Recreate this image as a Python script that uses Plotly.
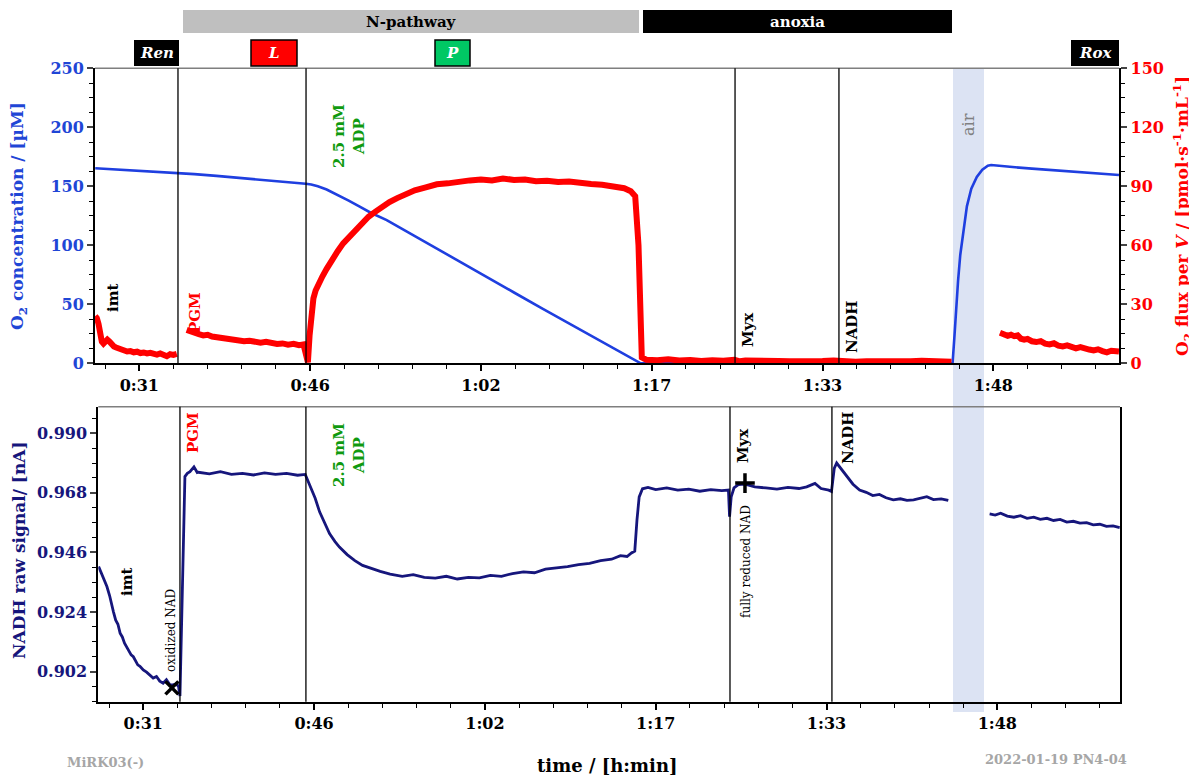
import plotly.graph_objects as go

W, H = 1197, 775
FONT = "DejaVu Serif"
OFF = 8  # page body margin of the browser

# ------------------------------------------------------------------ data
tick_vals = [31, 46.5, 62, 77.5, 93, 108.5]
tick_text = ["0:31", "0:46", "1:02", "1:17", "1:33", "1:48"]

# O2 concentration (µM), top panel, left axis
o2_t = [27.0, 28, 29, 30, 31, 32, 33, 34, 34.5, 36, 38, 40, 42, 44, 46.1, 46.6, 47.2, 48, 49, 50,
        51, 52, 53.45, 56, 58, 60, 62.5, 65, 67.5, 70, 72.5, 75, 76.3, 76.5, 80, 85, 90, 95, 100,
        104.8, 104.95, 105.1, 105.3, 105.5, 105.8, 106.1, 106.5, 107, 107.5, 108, 108.3, 109, 110,
        112, 114, 116, 118, 119.9]
o2_conc = [165.3, 164.8, 164.3, 163.8, 163.3, 162.8, 162.3, 161.8, 161.5, 160.3, 158.8, 157.3, 155.8,
           154.2, 152.2, 151.5, 150.0, 147.3, 142.8, 137.8, 132.7, 127.6, 121.4, 108.0, 97.4, 86.6,
           73.3, 60.0, 46.8, 33.6, 20.4, 7.2, 0.5, 0.0, 0.0, 0.0, 0.0, 0.0, 0.0, 0.0, 20, 45, 70, 92,
           115, 133, 148, 158, 164, 167.5, 168, 167.3, 166.5, 165.0, 163.6, 162.2, 160.8, 159.6]

# O2 flux per V (pmol/(s*mL)), top panel, right axis -- segments separated by gaps
flux_t_1 = [27.0, 27.15, 27.3, 27.45, 27.6, 27.75, 27.9, 28.1, 28.3, 28.5, 28.7, 28.9, 29.1, 29.3,
            29.6, 29.9, 30.2, 30.5, 30.8, 31.1, 31.4, 31.7, 32.0, 32.3, 32.6, 32.9, 33.2, 33.5,
            33.8, 34.1, 34.4]
flux_v_1 = [24, 23, 20, 14, 11, 10, 11.5, 12, 11, 9, 8.5, 8, 7.5, 7.8, 6.5, 6, 6.2, 5.6, 5.9, 5.2,
            5.5, 5.0, 5.3, 4.8, 4.4, 5.0, 4.2, 3.6, 4.6, 4.3, 4.8]
flux_t_2 = [35.3, 35.5, 35.7, 36.0, 36.4, 36.8, 37.2, 37.6, 38.0, 38.5, 39.0, 39.5, 40.0, 40.5, 41.0,
            41.5, 42.0, 42.5, 43.0, 43.5, 44.0, 44.5, 45.0, 45.5, 45.9, 46.1, 46.3, 46.45, 46.6,
            46.8, 47.0, 47.3, 47.6, 48.0, 48.5, 49.0, 49.5, 50.0, 50.6, 51.2, 51.8, 52.4, 53.0,
            53.7, 54.4, 55.2, 56.0, 57.0, 58.0, 59.0, 60.0, 61.0, 62.0, 63.0, 64.0, 65.0, 66.0,
            67.0, 68.0, 69.0, 70.0, 71.0, 72.0, 73.0, 74.0, 75.0, 75.6, 76.0, 76.3, 76.45, 76.6,
            77, 78, 79, 80, 81, 82, 83, 84, 85, 85.5, 86, 87, 88, 89, 90, 91, 92, 93, 94, 95, 96,
            97, 98, 99, 100, 101, 102, 103, 104, 104.7]
flux_v_2 = [17, 16.5, 15.8, 15.5, 14.8, 14.2, 14.5, 13.6, 13.2, 12.8, 12.5, 12.0, 11.8, 11.2, 11.5,
            10.8, 10.5, 10.9, 10.2, 9.8, 10.1, 9.5, 9.9, 9.2, 9.6, 6, 0.5, 14, 26,
            33, 37, 41, 44, 48, 53, 57, 61, 64, 68, 71, 74.5, 77, 79.5,
            82, 84, 86, 88, 89.5, 91, 91.5, 92.5, 93, 93.5, 93, 94, 93.2, 93.5,
            92.6, 92.8, 92.2, 92.4, 91.6, 91.2, 90.8, 90.0, 89.0, 87.5, 85, 60, 20, 3,
            1.8, 1.5, 2.0, 1.4, 1.7, 1.2, 1.6, 1.3, 1.8, 1.0, 1.4, 1.1, 1.5, 1.2, 1.0, 1.3, 0.9, 1.2,
            1.4, 1.0, 0.8, 1.1, 0.9, 1.2, 0.8, 1.0, 1.3, 0.9, 1.1, 0.8]
flux_t_3 = [109.1, 109.4, 109.8, 110.1, 110.4, 110.7, 111.0, 111.3, 111.6, 112.0, 112.4, 112.8, 113.2,
            113.6, 114.0, 114.4, 114.8, 115.2, 115.6, 116.0, 116.4, 116.8, 117.2, 117.6, 118.0,
            118.4, 118.8, 119.2, 119.6, 119.9]
flux_v_3 = [15.5, 15.0, 14.0, 14.5, 13.8, 14.2, 12.5, 12.0, 12.4, 11.2, 10.8, 11.3, 10.0, 9.6, 10.2,
            9.0, 8.6, 9.1, 8.0, 7.6, 8.2, 7.2, 7.0, 6.5, 7.1, 6.2, 5.6, 6.4, 5.8, 6.0]

# NADH raw signal (nA), bottom panel
nadh_t_1 = [26.95, 27.2, 27.45, 27.7, 27.95, 28.15, 28.3, 28.5, 28.7, 28.9, 29.1, 29.3, 29.5, 29.7,
            29.9, 30.1, 30.3, 30.5, 30.7, 31.0, 31.3, 31.6, 31.9, 32.2, 32.5, 32.8, 33.1, 33.4,
            33.7, 34.0, 34.2, 34.33, 34.42, 34.58, 34.7, 34.78, 35.0, 35.24, 35.6, 35.9, 36, 37,
            38, 39, 40, 41, 42, 43, 44, 45, 45.7, 45.76, 46.1, 46.6, 47.0, 47.5, 47.9, 48.4, 48.8,
            49.5, 50.2, 50.9, 51.6, 52.5, 53.4, 54.5, 55.5, 56.5, 57.5, 58.5, 59.5, 60.5, 61.5,
            62.5, 63.5, 64.5, 65.5, 66.5, 67.5, 68.5, 69.5, 70.5, 71.5, 72.5, 73.5, 74.3, 74.9,
            75.3, 75.6, 75.8, 76.0, 76.3, 76.8, 77.5, 78.5, 79.5, 80.5, 81.5, 82.5, 83.5, 84.1,
            84.2, 84.35, 84.6, 85.0, 85.6, 86.5, 87.5, 88.5, 89.5, 90.5, 91.2, 91.95, 92.5, 93.2,
            93.45, 93.7, 93.92, 94.3, 94.83, 95.4, 96.0, 96.6, 97.2, 97.8, 98.4, 99.06, 99.7,
            100.3, 100.9, 101.5, 102.1, 102.7, 103.4, 104.05]
nadh_v_1 = [0.9408, 0.9385, 0.9360, 0.9334, 0.9300, 0.9262, 0.9240, 0.9210, 0.9195, 0.9162, 0.9148,
            0.9125, 0.9112, 0.9100, 0.9082, 0.9075, 0.9062, 0.9045, 0.9040, 0.9026, 0.9018, 0.9005,
            0.8996, 0.9002, 0.8985, 0.8977, 0.8990, 0.8972, 0.8971, 0.8975, 0.8965, 0.8930, 0.9088,
            0.9285, 0.9550, 0.9740, 0.9752, 0.9758, 0.9776, 0.9755, 0.9756, 0.9750, 0.9758, 0.9748,
            0.9752, 0.9746, 0.9754, 0.9748, 0.9752, 0.9745, 0.9748, 0.9742, 0.9710, 0.9660, 0.9610,
            0.9565, 0.9530, 0.9500, 0.9480, 0.9452, 0.9430, 0.9412, 0.9402, 0.9390, 0.9380, 0.9372,
            0.9378, 0.9368, 0.9365, 0.9372, 0.9362, 0.9368, 0.9366, 0.9375, 0.9372, 0.9382, 0.9388,
            0.9385, 0.9398, 0.9402, 0.9408, 0.9415, 0.9420, 0.9430, 0.9435, 0.9448, 0.9445, 0.9458,
            0.9465, 0.9580, 0.9665, 0.9695, 0.9700, 0.9692, 0.9698, 0.9690, 0.9694, 0.9686, 0.9692,
            0.9688, 0.9690, 0.9592, 0.9665, 0.9698, 0.9710, 0.9712, 0.9702, 0.9698, 0.9694, 0.9700,
            0.9696, 0.9702, 0.9715, 0.9696, 0.9690, 0.9685, 0.9770, 0.9790, 0.9770, 0.9740, 0.9712,
            0.9690, 0.9682, 0.9670, 0.9674, 0.9662, 0.9654, 0.9658, 0.9652, 0.9654, 0.9660, 0.9666,
            0.9655, 0.9658, 0.9652]
nadh_t_2 = [107.8, 108.3, 108.8, 109.4, 110.0, 110.6, 111.2, 111.8, 112.4, 113.0, 113.6, 114.2, 114.8,
            115.4, 116.0, 116.6, 117.2, 117.8, 118.4, 119.0, 119.6]
nadh_v_2 = [0.9602, 0.9598, 0.9605, 0.9594, 0.9590, 0.9596, 0.9586, 0.9590, 0.9582, 0.9586, 0.9578,
            0.9582, 0.9572, 0.9575, 0.9568, 0.9570, 0.9562, 0.9564, 0.9556, 0.9558, 0.9552]

# titration events (min)
events_top = [34.51, 46.13, 85.06, 94.49]
events_bottom = [34.33, 45.76, 84.24, 93.49]

# special points
oxidized_pt = (33.6, 0.8960)
reduced_pt = (85.6, 0.9716)


def join(*segs):
    out = []
    for i, s in enumerate(segs):
        if i:
            out.append(None)
        out.extend(s)
    return out


def px(x):
    return (x - OFF) / W


def py(y):
    return 1 - (y - OFF) / H


BLUE = "#1f3fe0"
BLUE_T = "#1f46d6"
RED = "#ff0000"
NAVY = "#16167c"
GREEN = "#0f9a0f"

fig = go.Figure()

fig.add_trace(go.Scatter(x=o2_t, y=o2_conc, mode="lines", line=dict(color=BLUE, width=2.6),
                         xaxis="x", yaxis="y", showlegend=False))
fig.add_trace(go.Scatter(x=join(flux_t_1, flux_t_2, flux_t_3), y=join(flux_v_1, flux_v_2, flux_v_3),
                         mode="lines", line=dict(color=RED, width=6), connectgaps=False,
                         xaxis="x", yaxis="y2", showlegend=False))
fig.add_trace(go.Scatter(x=join(nadh_t_1, nadh_t_2), y=join(nadh_v_1, nadh_v_2), mode="lines",
                         line=dict(color=NAVY, width=2.8), connectgaps=False,
                         xaxis="x2", yaxis="y3", showlegend=False))
fig.add_trace(go.Scatter(x=[oxidized_pt[0]], y=[oxidized_pt[1]], mode="markers",
                         marker=dict(symbol="x-thin", size=13, line=dict(color="black", width=3.5)),
                         xaxis="x2", yaxis="y3", showlegend=False))
fig.add_trace(go.Scatter(x=[reduced_pt[0]], y=[reduced_pt[1]], mode="markers",
                         marker=dict(symbol="cross-thin", size=14, line=dict(color="black", width=3.5)),
                         xaxis="x2", yaxis="y3", showlegend=False))

minor_vals = []
for i in range(len(tick_vals) + 1):
    base = tick_vals[0] + (i - 1) * 15.5
    for k in range(1, 5):
        minor_vals.append(base + k * 3.1)

xcommon = dict(tickmode="array", tickvals=tick_vals, ticktext=tick_text, showgrid=False,
               zeroline=False, showline=True, linecolor="black", linewidth=2, ticks="outside",
               ticklen=6, tickwidth=1.5, tickcolor="black",
               tickfont=dict(family=FONT, size=16, color="black", weight="bold"),
               minor=dict(tickmode="array", tickvals=minor_vals, ticks="outside", ticklen=4,
                          tickwidth=1.2, tickcolor="black"),
               automargin=False)

fig.update_layout(
    width=W, height=H,
    margin=dict(l=0, r=0, t=0, b=0),
    paper_bgcolor="white", plot_bgcolor="rgba(0,0,0,0)",
    font=dict(family=FONT),
    xaxis=dict(domain=[px(95), px(1119.3)], range=[26.98, 119.93], anchor="y", **xcommon),
    xaxis2=dict(domain=[px(98.3), px(1120)], range=[26.92, 119.63], anchor="y3", **xcommon),
    yaxis=dict(domain=[py(363.3), py(68.3)], range=[0, 250], anchor="x", tickmode="linear",
               tick0=0, dtick=50, showgrid=False, zeroline=False, showline=True,
               linecolor="black", linewidth=2, ticks="outside", ticklen=6, tickwidth=1.5,
               tickfont=dict(family=FONT, size=16, color=BLUE_T, weight="bold"),
               minor=dict(dtick=12.5, ticks="outside", ticklen=4, tickwidth=1.2, tickcolor="black"),
               automargin=False),
    yaxis2=dict(range=[0, 150], overlaying="y", side="right", anchor="x", tickmode="linear",
                tick0=0, dtick=30, showgrid=False, zeroline=False, showline=True,
                linecolor="black", linewidth=2, ticks="outside", ticklen=6, tickwidth=1.5,
                tickfont=dict(family=FONT, size=16, color=RED, weight="bold"),
                minor=dict(dtick=7.5, ticks="outside", ticklen=4, tickwidth=1.2, tickcolor="black"),
                automargin=False),
    yaxis3=dict(domain=[py(701.7), py(406.7)], range=[0.8909, 0.9998], anchor="x2",
                tickmode="linear", tick0=0.902, dtick=0.022, tickformat=".3f", showgrid=False,
                zeroline=False, showline=True, mirror=True, linecolor="black", linewidth=2,
                ticks="outside", ticklen=6, tickwidth=1.5,
                tickfont=dict(family=FONT, size=16, color=NAVY, weight="bold"),
                minor=dict(dtick=0.0055, tick0=0.902, ticks="outside", ticklen=4, tickwidth=1.2,
                           tickcolor="black"),
                automargin=False),
)

shapes = []
# air calibration band spanning both panels
shapes.append(dict(type="rect", xref="paper", yref="paper", x0=px(953), x1=px(984),
                   y0=py(712), y1=py(68.3), fillcolor="#dce3f3", line=dict(width=0), layer="below"))
# top borders of each panel
shapes.append(dict(type="line", xref="paper", yref="paper", x0=px(95), x1=px(1119.3),
                   y0=py(68.3), y1=py(68.3), line=dict(color="#7f7f7f", width=1.5)))
shapes.append(dict(type="line", xref="paper", yref="paper", x0=px(98.3), x1=px(1120),
                   y0=py(406.7), y1=py(406.7), line=dict(color="#7f7f7f", width=1.5)))
for t in events_top:
    shapes.append(dict(type="line", xref="x", yref="y domain", x0=t, x1=t, y0=0, y1=1,
                       line=dict(color="black", width=1.3)))
for t in events_bottom:
    shapes.append(dict(type="line", xref="x2", yref="y3 domain", x0=t, x1=t, y0=0, y1=1,
                       line=dict(color="black", width=1.3)))


def box(x0, x1, y0, y1, fill, border=None):
    return dict(type="rect", xref="paper", yref="paper", x0=px(x0), x1=px(x1), y0=py(y1), y1=py(y0),
                fillcolor=fill, line=dict(color=border or fill, width=1.5 if border else 0))


shapes += [
    box(183, 639, 10, 33, "#bfbfbf"),
    box(643, 952, 10, 33, "black"),
    box(134, 179, 40, 66, "black"),
    box(251, 297, 40, 66, "#ff0000", "black"),
    box(435, 470, 40, 66, "#00c864", "black"),
    box(1071, 1119, 40, 66, "black"),
]
fig.update_layout(shapes=shapes)

ann = []


def text(x, y, s, color="black", size=15, angle=0, bold=True, italic=False, xanchor="center"):
    ann.append(dict(x=px(x), y=py(y), xref="paper", yref="paper", text=s, showarrow=False,
                    textangle=angle, xanchor=xanchor, yanchor="middle",
                    font=dict(family=FONT, size=size, color=color,
                              weight="bold" if bold else "normal",
                              style="italic" if italic else "normal")))


# header labels
text(411, 22, "N-pathway", size=15)
text(797, 22, "anoxia", color="white", size=15)
text(156.5, 53, "Ren", color="white", size=15, italic=True)
text(274, 53, "L", color="white", size=15, italic=True)
text(452.5, 53, "P", color="white", size=15, italic=True)
text(1095, 53, "Rox", color="white", size=15, italic=True)

# axis titles
text(19, 216, "O<sub>2</sub> concentration / [µM]", color=BLUE_T, size=17, angle=-90)
text(1183, 216, "O<sub>2</sub> flux per <i>V</i> / [pmol·s<sup>-1</sup>·mL<sup>-1</sup>]",
     color=RED, size=17, angle=-90)
text(19, 550, "NADH raw signal/ [nA]", color=NAVY, size=17, angle=-90)
text(607, 765, "time / [h:min]", size=18)
text(105, 762, "MiRK03(-)", color="#a6a6a6", size=13)
text(1056, 759, "2022-01-19 PN4-04", color="#a6a6a6", size=13)

# top panel event labels
text(113, 298, "imt", angle=-90)
text(195, 313, "PGM", color=RED, angle=-90)
text(349, 136, "2.5 mM<br>ADP", color=GREEN, angle=-90)
text(748, 330, "Myx", angle=-90)
text(852, 327, "NADH", angle=-90)
text(968, 125, "air", color="#808080", bold=False, size=16, angle=-90)

# bottom panel event labels
text(127, 582, "imt", angle=-90)
text(171, 631, "oxidized NAD", size=12, bold=False, angle=-90)
text(193, 433, "PGM", color=RED, angle=-90)
text(349, 455, "2.5 mM<br>ADP", color=GREEN, angle=-90)
text(743, 446, "Myx", angle=-90)
text(746, 562, "fully reduced NAD", size=12, bold=False, angle=-90)
text(848, 438, "NADH", angle=-90)

fig.update_layout(annotations=ann)

fig.write_html("out.html")
